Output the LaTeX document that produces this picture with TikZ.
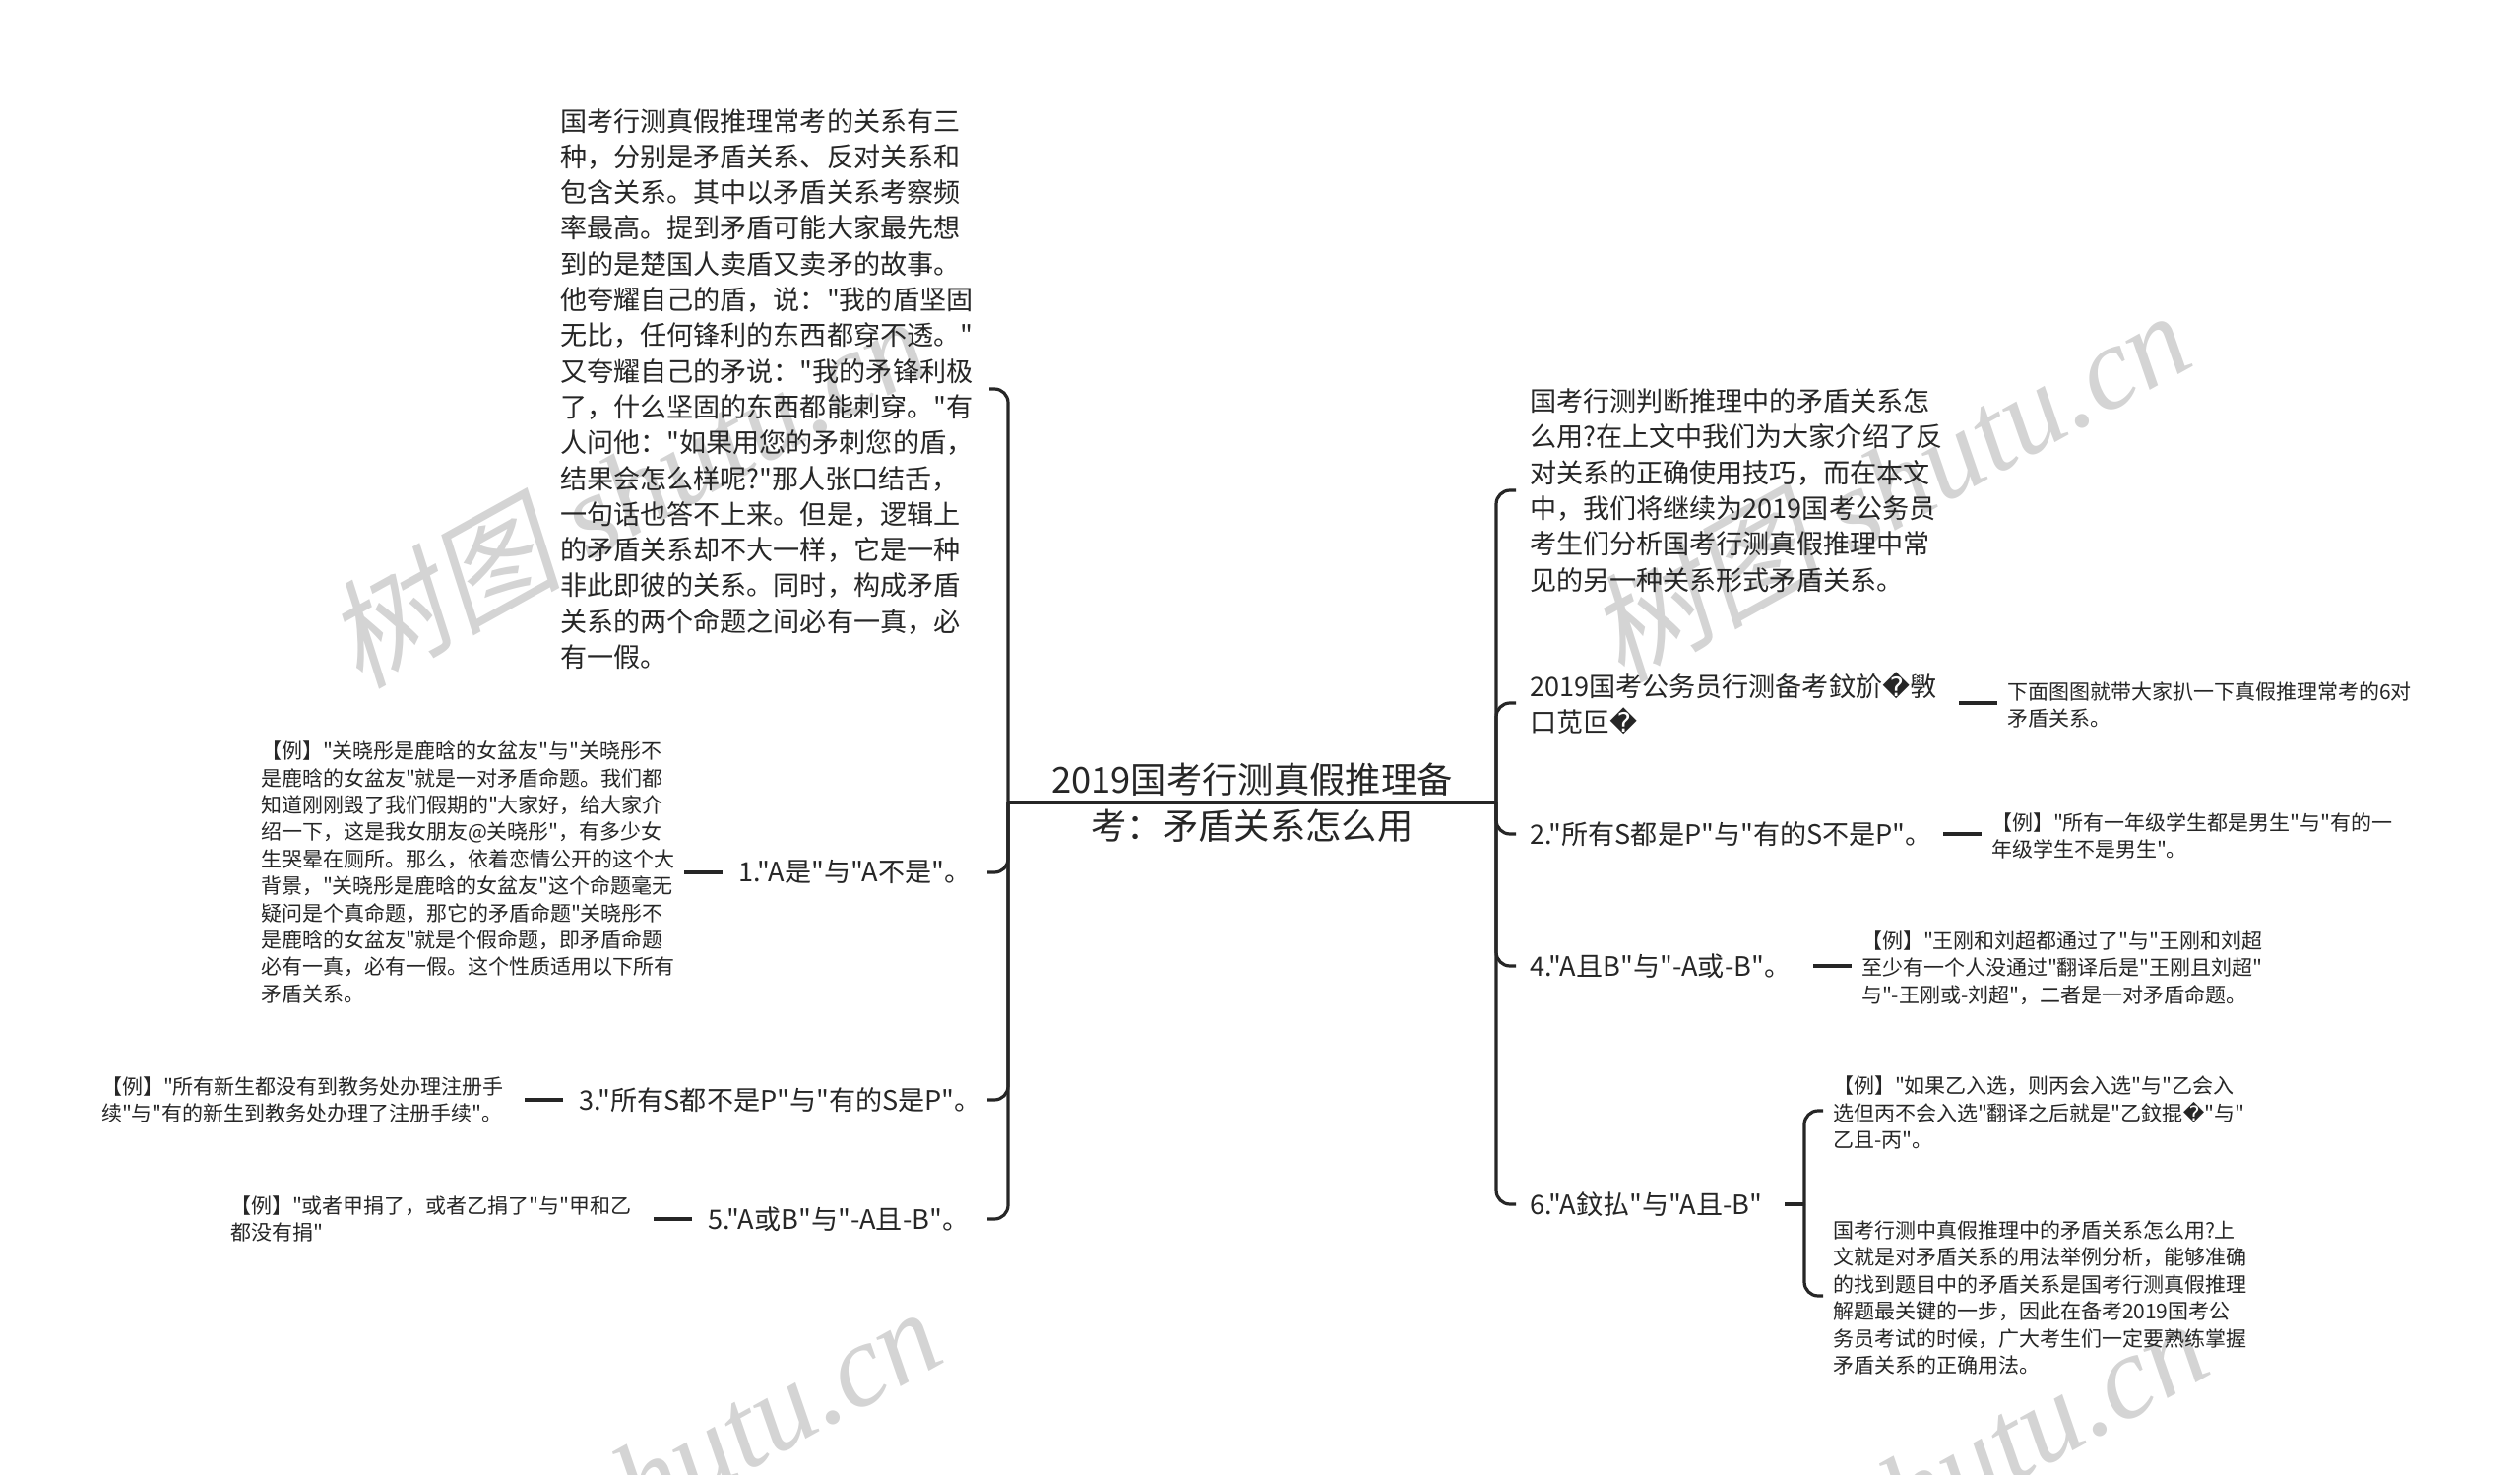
\documentclass[tikz,border=0pt]{standalone}
\usepackage{fontspec}
\newfontfamily\zh{Noto Sans CJK SC}
\newfontfamily\repfont{DejaVu Sans}
\newfontfamily\wmcjk[FakeSlant=0.2]{Noto Sans CJK SC}
\newfontfamily\wmlat{Liberation Serif}
\newcommand{\rep}{{\repfont\symbol{"FFFD}}}
\usetikzlibrary{positioning}
\begin{document}
\begin{tikzpicture}[x=0.5pt, y=-0.5pt, node distance=19.5pt, line width=1.6pt, color={black!85},
  every node/.style = {outer sep=0pt},
  main/.style = {inner xsep=8pt, inner ysep=0pt, align=left, text=black!85, font=\zh\fontsize{13.55pt}{18.15pt}\selectfont},
  mainr/.style = {main, inner xsep=7pt},
  sub/.style = {inner xsep=4pt, inner ysep=0pt, align=left, text=black!85, text width=211pt, font=\zh\fontsize{10.5pt}{13.7pt}\selectfont},
  subr/.style = {sub, inner xsep=5pt, yshift=-1pt},
  wmark/.style = {rotate=29, anchor=base west, inner sep=0pt, text=black!17, font=\fontsize{60pt}{60pt}\selectfont}]
\useasboundingbox (0,0) rectangle (2560,1498);
\node[wmark] (wm1) at (365,700) {\wmcjk 树图 \wmlat\itshape shutu.cn};
\node[wmark] (wm2) at (1647,694) {\wmcjk 树图 \wmlat\itshape shutu.cn};
\node[wmark] (wm3) at (378,1706) {\wmcjk 树图 \wmlat\itshape shutu.cn};
\node[wmark] (wm4) at (1665,1718) {\wmcjk 树图 \wmlat\itshape shutu.cn};
\node[inner sep=0pt, text width=248pt, align=center, text=black!85, font=\zh\fontsize{18.15pt}{23.5pt}\selectfont] (root) at (1272,815) {2019国考行测真假推理备\\考：矛盾关系怎么用};
\node[main, anchor=east, text width=210pt] (top) at (1005,395) {国考行测真假推理常考的关系有三\\种，分别是矛盾关系、反对关系和\\包含关系。其中以矛盾关系考察频\\率最高。提到矛盾可能大家最先想\\到的是楚国人卖盾又卖矛的故事。\\他夸耀自己的盾，说："我的盾坚固\\无比，任何锋利的东西都穿不透。"\\又夸耀自己的矛说："我的矛锋利极\\了，什么坚固的东西都能刺穿。"有\\人问他："如果用您的矛刺您的盾，\\结果会怎么样呢?"那人张口结舌，\\一句话也答不上来。但是，逻辑上\\的矛盾关系却不大一样，它是一种\\非此即彼的关系。同时，构成矛盾\\关系的两个命题之间必有一真，必\\有一假。};
\node[main, anchor=east, text width=118.5pt] (l1) at (1003,886) {1."A是"与"A不是"。};
\node[main, anchor=east, text width=199.5pt] (l3) at (1003,1117) {3."所有S都不是P"与"有的S是P"。};
\node[main, anchor=east, text width=134pt] (l5) at (1003,1238) {5."A或B"与"-A且-B"。};
\node[sub, left=of l1] (e1) {【例】"关晓彤是鹿晗的女盆友"与"关晓彤不\\是鹿晗的女盆友"就是一对矛盾命题。我们都\\知道刚刚毁了我们假期的"大家好，给大家介\\绍一下，这是我女朋友@关晓彤"，有多少女\\生哭晕在厕所。那么，依着恋情公开的这个大\\背景，"关晓彤是鹿晗的女盆友"这个命题毫无\\疑问是个真命题，那它的矛盾命题"关晓彤不\\是鹿晗的女盆友"就是个假命题，即矛盾命题\\必有一真，必有一假。这个性质适用以下所有\\矛盾关系。};
\node[sub, left=of l3] (e3) {【例】"所有新生都没有到教务处办理注册手\\续"与"有的新生到教务处办理了注册手续"。};
\node[sub, left=of l5] (e5) {【例】"或者甲捐了，或者乙捐了"与"甲和乙\\都没有捐"};
\node[mainr, anchor=west, text width=211pt] (r1) at (1540,498) {国考行测判断推理中的矛盾关系怎\\么用?在上文中我们为大家介绍了反\\对关系的正确使用技巧，而在本文\\中，我们将继续为2019国考公务员\\考生们分析国考行测真假推理中常\\见的另一种关系形式矛盾关系。};
\node[mainr, anchor=west, text width=211pt] (r2) at (1540,714) {2019国考公务员行测备考鈫斺\rep 斆\\口苋叵\rep};
\node[mainr, anchor=west, text width=203pt] (r3) at (1540,847) {2."所有S都是P"与"有的S不是P"。};
\node[mainr, anchor=west, text width=137pt] (r4) at (1540,981) {4."A且B"与"-A或-B"。};
\node[mainr, anchor=west, text width=122.5pt] (r6) at (1540,1223) {6."A鈫払"与"A且-B"};
\node[subr, right=of r2] (d2) {下面图图就带大家扒一下真假推理常考的6对\\矛盾关系。};
\node[subr, right=of r3] (d3) {【例】"所有一年级学生都是男生"与"有的一\\年级学生不是男生"。};
\node[subr, right=of r4] (d4) {【例】"王刚和刘超都通过了"与"王刚和刘超\\至少有一个人没通过"翻译后是"王刚且刘超"\\与"-王刚或-刘超"，二者是一对矛盾命题。};
\coordinate (j6) at (1833,1223);
\node[subr, anchor=west] (d6a) at (1852,1128) {【例】"如果乙入选，则丙会入选"与"乙会入\\选但丙不会入选"翻译之后就是"乙鈫掍\rep"与"\\乙且-丙"。};
\node[subr, anchor=west] (d6b) at (1852,1316) {国考行测中真假推理中的矛盾关系怎么用?上\\文就是对矛盾关系的用法举例分析，能够准确\\的找到题目中的矛盾关系是国考行测真假推理\\解题最关键的一步，因此在备考2019国考公\\务员考试的时候，广大考生们一定要熟练掌握\\矛盾关系的正确用法。};
\draw (root.west) -- (root.east);
\draw[rounded corners=7pt] (root.west) |- (top.east);
\draw[rounded corners=7pt] (root.west) |- (l1.east);
\draw[rounded corners=7pt] (root.west) |- (l3.east);
\draw[rounded corners=7pt] (root.west) |- (l5.east);
\draw[rounded corners=7pt] (root.east) |- (r1.west);
\draw[rounded corners=7pt] (root.east) |- (r2.west);
\draw[rounded corners=7pt] (root.east) |- (r3.west);
\draw[rounded corners=7pt] (root.east) |- (r4.west);
\draw[rounded corners=7pt] (root.east) |- (r6.west);
\draw (l1) -- (e1);
\draw (l3) -- (e3);
\draw (l5) -- (e5);
\draw (r2.east) -- (r2.east -| d2.west);
\draw (r3.east) -- (r3.east -| d3.west);
\draw (r4.east) -- (r4.east -| d4.west);
\draw (r6) -- (j6);
\draw[rounded corners=7pt] (j6) |- ([yshift=1pt]d6a.west);
\draw[rounded corners=7pt] (j6) |- ([yshift=1pt]d6b.west);
\end{tikzpicture}
\end{document}
